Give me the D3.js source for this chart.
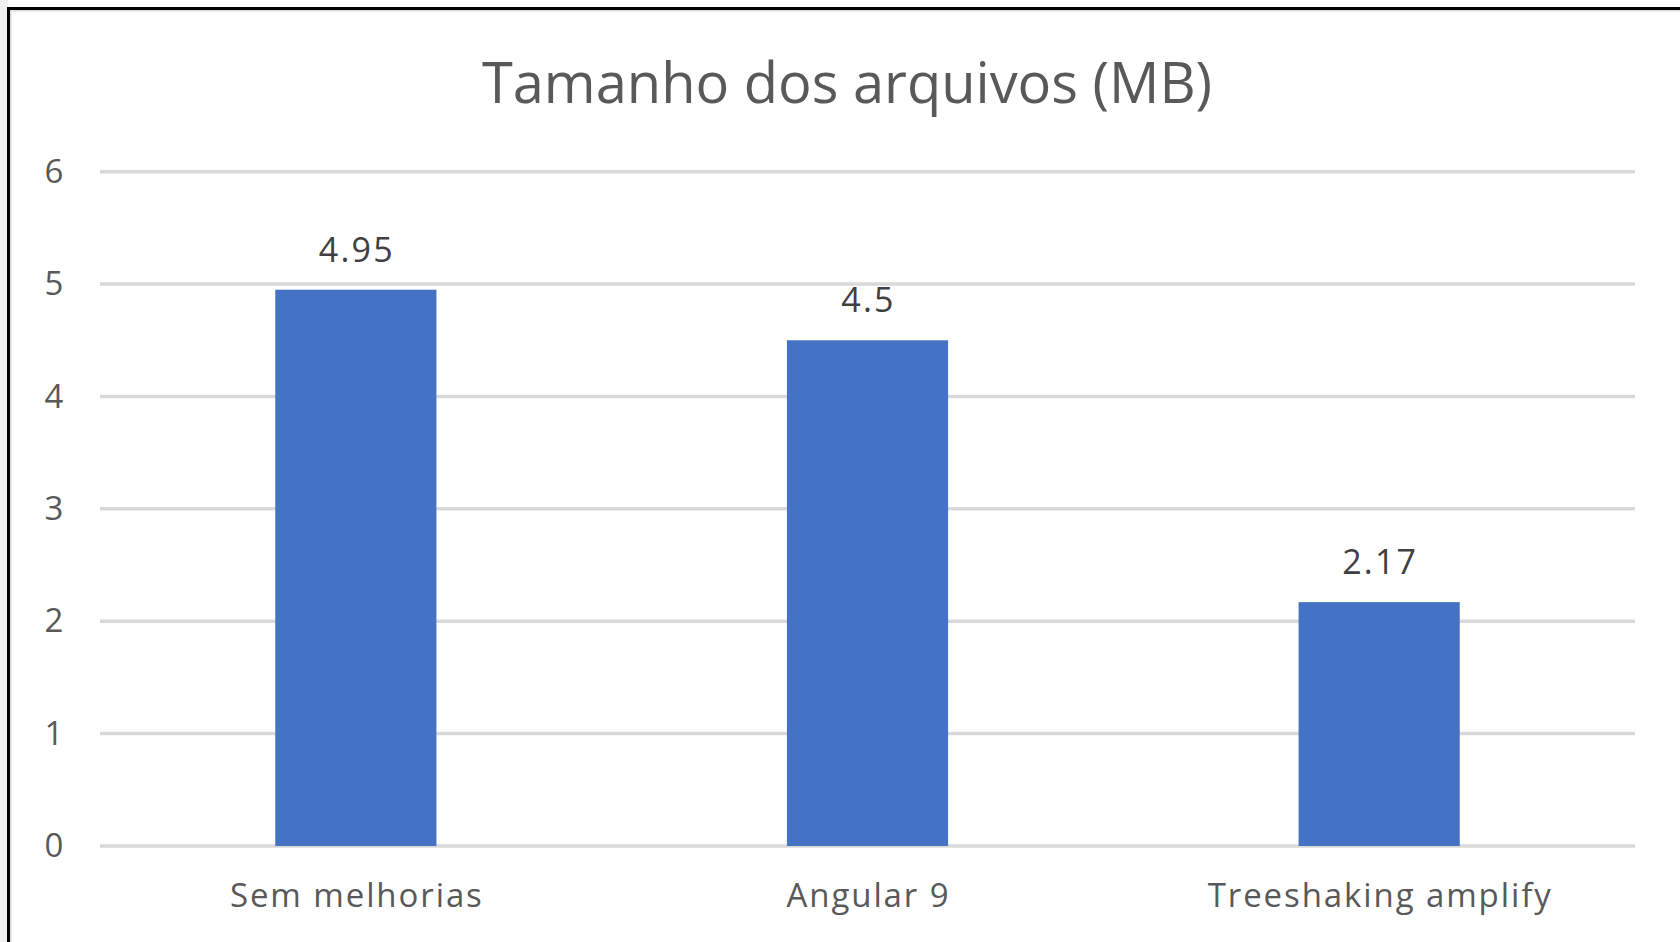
<!DOCTYPE html>
<html>
<head>
<meta charset="utf-8">
<script src="https://cdn.jsdelivr.net/npm/d3@7"></script>
<style>
  html, body { margin: 0; padding: 0; background: #ffffff; }
  svg { display: block; }
</style>
</head>
<body>
<svg id="chart" width="1680" height="942"></svg>
<script>
const title = "Tamanho dos arquivos (MB)";
const categories = ["Sem melhorias", "Angular 9", "Treeshaking amplify"];
const values = [4.95, 4.5, 2.17];
const yTicks = [0, 1, 2, 3, 4, 5, 6];

const svg = d3.select("#chart");
const W = 1680, H = 942;
const font = "'Open Sans', 'Noto Sans', sans-serif";
const textColor = "#595959";

// outer frame
svg.append("rect").attr("x", 0).attr("y", 0).attr("width", 8).attr("height", H).attr("fill", "#f0f0f0");
svg.append("rect").attr("x", 10).attr("y", 10).attr("width", W).attr("height", H)
  .attr("fill", "none").attr("stroke", "#dadada").attr("stroke-width", 3);
svg.append("rect").attr("x", 8.5).attr("y", 8.5).attr("width", W + 10).attr("height", H + 10)
  .attr("fill", "none").attr("stroke", "#000000").attr("stroke-width", 3);

const x = d3.scaleBand().domain(categories).range([100, 1635]).paddingInner(0.685).paddingOuter(0.3425);
const y = d3.scaleLinear().domain([0, 6]).range([846, 171.7]);

// gridlines
svg.append("g").selectAll("line").data(yTicks).join("line")
  .attr("x1", 100).attr("x2", 1635)
  .attr("y1", d => y(d)).attr("y2", d => y(d))
  .attr("stroke", "#d9d9d9").attr("stroke-width", 3.5);

// y axis labels
const yAxis = d3.axisLeft(y).tickValues(yTicks).tickSize(0).tickPadding(0).tickFormat(d3.format("d"));
const yg = svg.append("g").attr("transform", "translate(64,0)").call(yAxis);
yg.select(".domain").remove();
yg.selectAll("text").attr("font-family", font).attr("font-size", 33).attr("fill", textColor)
  .attr("text-anchor", "middle").attr("dx", "-10");

// bars
svg.append("g").selectAll("rect").data(values).join("rect")
  .attr("x", (d, i) => x(categories[i]))
  .attr("y", d => y(d))
  .attr("width", x.bandwidth())
  .attr("height", d => y(0) - y(d))
  .attr("fill", "#4472c4");

// data labels
svg.append("g").selectAll("text").data(values).join("text")
  .attr("x", (d, i) => x(categories[i]) + x.bandwidth() / 2 + 1)
  .attr("y", d => y(d) - 28)
  .attr("text-anchor", "middle")
  .attr("font-family", font).attr("font-size", 34).attr("letter-spacing", 2.2).attr("fill", "#404040")
  .text(d => String(d));

// x axis labels
const xAxis = d3.axisBottom(x).tickSize(0).tickPadding(0);
const xg = svg.append("g").attr("transform", "translate(0,846)").call(xAxis);
xg.select(".domain").remove();
xg.selectAll("text").attr("font-family", font).attr("font-size", 33).attr("letter-spacing", 1.9)
  .attr("fill", textColor).attr("dy", null).attr("y", 61).attr("dx", 1);

// title
svg.append("text").attr("x", 847).attr("y", 103).attr("text-anchor", "middle")
  .attr("font-family", font).attr("font-size", 56).attr("fill", textColor)
  .text(title);
</script>
</body>
</html>
